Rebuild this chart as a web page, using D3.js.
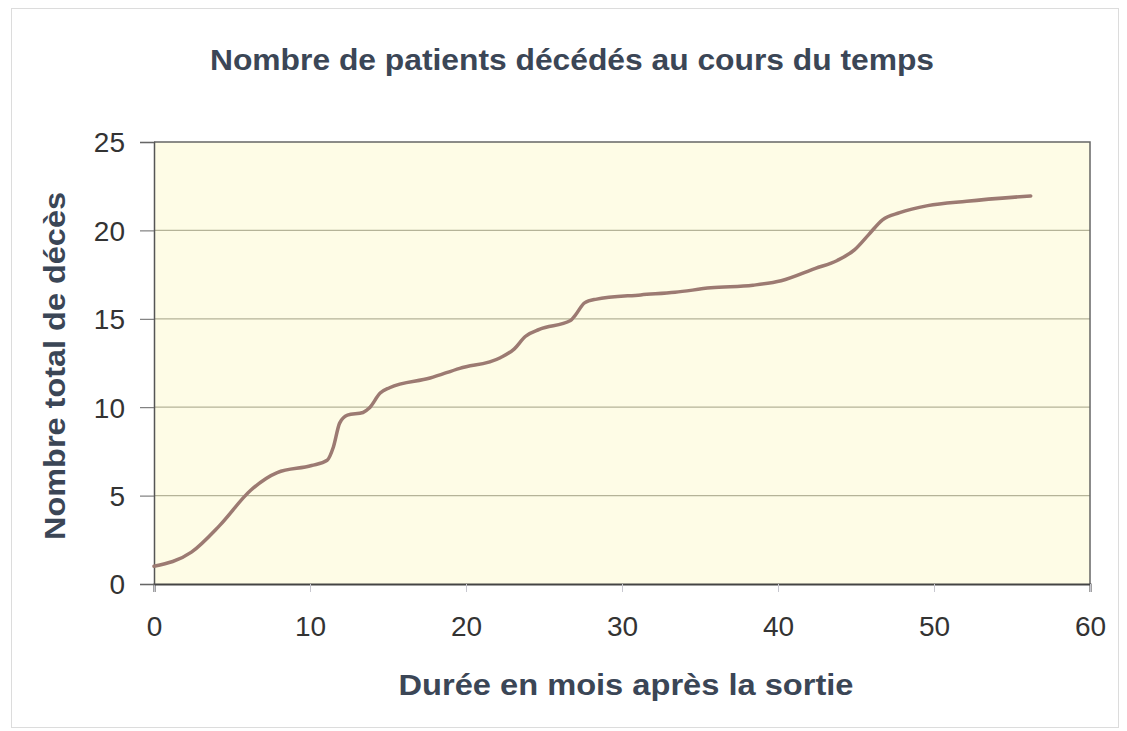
<!DOCTYPE html>
<html lang="fr">
<head>
<meta charset="UTF-8">
<title>Nombre de patients décédés</title>
<script src="https://d3js.org/d3.v7.min.js"></script>
<style>
  body { margin: 0; background: #fff; }
  svg { display: block; }
  text { font-family: "Liberation Sans", Arial, sans-serif; }
</style>
</head>
<body>
<script>
// values
const months = [0, 2.4, 4.2, 6.2, 7.9, 10.1, 11.1, 11.5, 11.9, 12.4, 13.4, 13.8, 14.5, 15.1, 17.7, 19.6, 22.2, 23.1, 23.8, 24.7, 26.7, 27.0, 27.6, 28.3, 31.2, 33.4, 35.7, 38.4, 40.2, 42.4, 43.8, 44.9, 45.8, 46.7, 47.8, 49.6, 52.1, 56.2]
const deaths = [1, 1.8, 3.3, 5.3, 6.3, 6.7, 7.0, 7.75, 9.1, 9.55, 9.7, 9.95, 10.8, 11.1, 11.65, 12.2, 12.8, 13.3, 14.0, 14.4, 14.9, 15.2, 15.9, 16.1, 16.35, 16.5, 16.75, 16.9, 17.15, 17.85, 18.3, 18.9, 19.75, 20.6, 21.0, 21.4, 21.65, 21.95]
const xTicks = [0, 10, 20, 30, 40, 50, 60]
const yTicks = [0, 5, 10, 15, 20, 25]
const title = "Nombre de patients décédés au cours du temps"
const xTitle = "Durée en mois après la sortie"
const yTitle = "Nombre total de décès"

const width = 1127
const height = 731
const margin = {left: 154, right: 37, top: 142, bottom: 147}

const svg = d3.select("body").append("svg")
    .attr("width", width)
    .attr("height", height)

// outer frame of the chart
svg.append("rect")
    .attr("x", 11.5).attr("y", 8.5)
    .attr("width", width - 20).attr("height", height - 12)
    .attr("fill", "none")
    .attr("stroke", "#dcdcdc")

const x = d3.scaleLinear().domain([0, 60]).range([margin.left, width - margin.right])
const y = d3.scaleLinear().domain([0, 25]).range([height - margin.bottom, margin.top])

// plot area
svg.append("rect")
    .attr("x", x(0)).attr("y", y(25))
    .attr("width", x(60) - x(0)).attr("height", y(0) - y(25))
    .attr("fill", "#fefce6")

// grid lines
svg.append("g")
    .selectAll("line")
    .data(yTicks.filter(d => d > 0 && d < 25))
    .enter()
    .append("line")
    .attr("x1", x(0)).attr("x2", x(60))
    .attr("y1", d => y(d)).attr("y2", d => y(d))
    .attr("stroke", "#b5b398")
    .attr("stroke-width", 1.3)

// top and right border
svg.append("path")
    .attr("d", `M${x(0)},${y(25)}H${x(60)}V${y(0)}`)
    .attr("fill", "none")
    .attr("stroke", "#666")
    .attr("stroke-width", 1.5)

const xAxis = svg.append("g")
    .attr("transform", `translate(0,${y(0)})`)
    .call(d3.axisBottom(x).tickValues(xTicks).tickSize(8).tickPadding(24))
xAxis.select(".domain").attr("stroke", "#444").attr("stroke-width", 2)
xAxis.selectAll(".tick line").attr("stroke", "#c8c8d0")
xAxis.selectAll("text")
    .attr("font-size", 28)
    .attr("fill", "#333")

const yAxis = svg.append("g")
    .attr("transform", `translate(${x(0)},0)`)
    .call(d3.axisLeft(y).tickValues(yTicks).tickSize(14).tickPadding(15))
yAxis.select(".domain").attr("stroke", "#555").attr("stroke-width", 1.5)
yAxis.selectAll(".tick line").attr("stroke", "#666")
yAxis.selectAll("text")
    .attr("font-size", 28)
    .attr("fill", "#333")
    .attr("dy", "0.35em")

// curve
const line = d3.line()
    .x(d => x(d[0]))
    .y(d => y(d[1]))
    .curve(d3.curveMonotoneX)

svg.append("path")
    .datum(months.map((m, i) => [m, deaths[i]]))
    .attr("d", line)
    .attr("fill", "none")
    .attr("stroke", "#9c7a72")
    .attr("stroke-width", 3.5)
    .attr("stroke-linejoin", "round")
    .attr("stroke-linecap", "round")

// titles
svg.append("text")
    .attr("x", 572).attr("y", 70)
    .attr("text-anchor", "middle")
    .attr("font-size", 30)
    .attr("font-weight", "bold")
    .attr("fill", "#3b4656")
    .attr("textLength", 724)
    .attr("lengthAdjust", "spacingAndGlyphs")
    .text(title)

svg.append("text")
    .attr("x", 626).attr("y", 695)
    .attr("text-anchor", "middle")
    .attr("font-size", 29)
    .attr("font-weight", "bold")
    .attr("fill", "#3b4656")
    .attr("textLength", 455)
    .attr("lengthAdjust", "spacingAndGlyphs")
    .text(xTitle)

svg.append("text")
    .attr("transform", `translate(65,366) rotate(-90)`)
    .attr("text-anchor", "middle")
    .attr("font-size", 29)
    .attr("font-weight", "bold")
    .attr("fill", "#3b4656")
    .attr("textLength", 348)
    .attr("lengthAdjust", "spacingAndGlyphs")
    .text(yTitle)
</script>
</body>
</html>
